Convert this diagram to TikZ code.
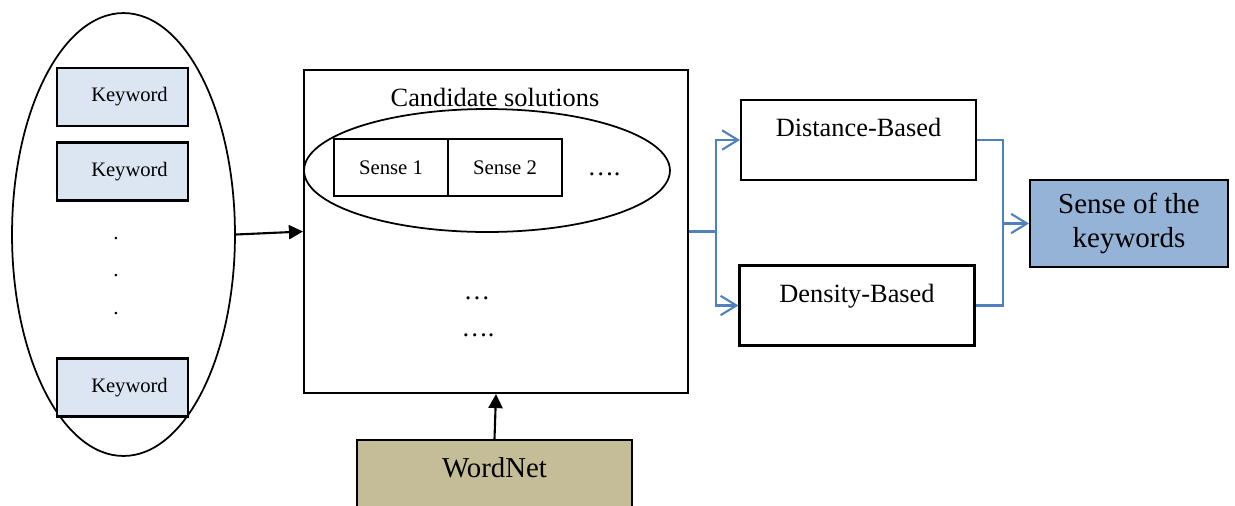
\documentclass[tikz,border=0pt]{standalone}
\usepackage{fontspec}
\setmainfont{Liberation Serif}
\usetikzlibrary{shapes.geometric,arrows.meta}
\definecolor{keyfill}{HTML}{DCE6F2}
\definecolor{netfill}{HTML}{C4BD97}
\definecolor{outfill}{HTML}{95B3D7}
\definecolor{linkblue}{HTML}{4F81BD}

\begin{document}
\begin{tikzpicture}[x=0.02cm,y=-0.02cm,line width=1.2pt,
		key node/.style={rectangle,draw,fill=keyfill,minimum width=2.62cm,minimum height=1.16cm,font=\fontsize{11.7}{14}\selectfont},
		sense node/.style={rectangle,draw,line width=1.4pt,minimum width=2.28cm,minimum height=1.14cm,font=\fontsize{11.8}{14}\selectfont},
		method node/.style={rectangle,draw,minimum width=4.7cm,minimum height=1.6cm,text height=10.5pt,text depth=14pt,font=\fontsize{15}{18}\selectfont},
		dots node/.style={anchor=base,inner sep=0pt,font=\fontsize{15}{18}\selectfont},
		black arrow/.style={-{Triangle[length=8pt,width=8pt]}},
		blue line/.style={draw=linkblue,line width=1.2pt},
		blue arrow/.style={blue line,-{Straight Barb[length=9pt,width=11pt]}}]
		\useasboundingbox (0,0) rectangle (1235,505);
		
		% keywords
		\node[ellipse,draw,line width=1pt,minimum width=4.46cm,minimum height=8.86cm] (keys) at (123.5,234.5) {};
		\node[key node] (kw1) at (122.5,97) {\hspace*{8pt}Keyword};
		\node[key node] (kw2) at (122.5,171.5) {\hspace*{8pt}Keyword};
		\node[key node] (kwn) at (122.5,387.5) {\hspace*{8pt}Keyword};
		\foreach \y [count=\i] in {239,276,314}
			\node[anchor=base,font=\fontsize{12}{14}\selectfont] (dot\i) at (116,\y) {.};
		
		% candidate solutions
		\node[rectangle,draw,minimum width=7.68cm,minimum height=6.46cm] (cand) at (496,231.5) {};
		\node[font=\fontsize{15}{18}\selectfont] (candtitle) at (495,97) {Candidate solutions};
		\node[ellipse,draw,line width=1pt,minimum width=7.32cm,minimum height=2.46cm] (senses) at (487,170.5) {};
		\node[sense node] (s1) at (391,167.5) {Sense 1};
		\node[sense node] (s2) at (505,167.5) {Sense 2};
		\node[dots node] (more) at (604,175) {….};
		\node[dots node] (mid1) at (477,299) {…};
		\node[dots node] (mid2) at (478,336) {….};
		
		\node[rectangle,draw,fill=netfill,minimum width=5.5cm,minimum height=1.6cm,text height=11.5pt,text depth=14pt,font=\fontsize{16.4}{20}\selectfont] (wn) at (494.5,480) {WordNet};
		
		% methods
		\node[method node] (dist) at (858.5,140) {Distance-Based};
		\node[method node] (dens) at (857,305.5) {Density-Based};
		\node[rectangle,draw,fill=outfill,minimum width=3.96cm,minimum height=1.74cm,align=center,font=\fontsize{16.5}{19.3}\selectfont] (result) at (1129,223.5) {Sense of the\\keywords};
		
		\draw[black arrow] (keys.east) -- (cand.west);
		\draw[black arrow] (wn.north) -- (cand.south);
		\draw[blue arrow] (cand.east) -- ++(27,0) coordinate (fork) |- (dist.west);
		\draw[blue arrow] (fork) |- (dens.west);
		\draw[blue line] (dist.east) -- ++(26,0) coordinate (join) |- (dens.east);
		\draw[blue arrow] (join |- result.west) -- (result.west);
\end{tikzpicture}
\end{document}
